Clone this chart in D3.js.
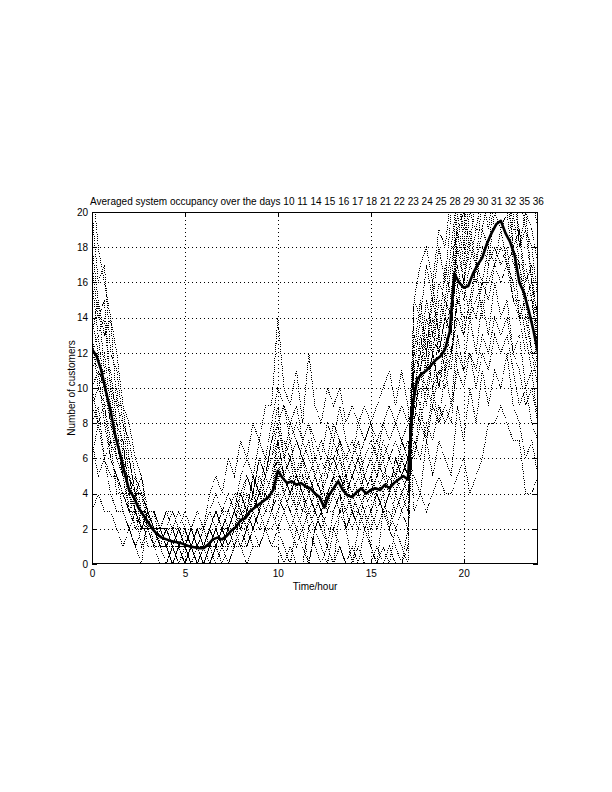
<!DOCTYPE html>
<html><head><meta charset="utf-8">
<script src="https://cdn.jsdelivr.net/npm/d3@7"></script>
<style>
body{margin:0;background:#fff}
text{font-family:"Liberation Sans",Arial,Helvetica,sans-serif;fill:#000}
</style>
</head><body>
<svg id="chart" width="612" height="792"></svg>
<script>
// ---------------- data ----------------
const titleText = "Averaged system occupancy over the days";
const dayLabels = [10,11,14,15,16,17,18,21,22,23,24,25,28,29,30,31,32,35,36];
const sampleStepHours = 1/3;   // day samples every 20 minutes
const meanStepHours = 0.25;    // average sampled every 15 minutes
const xTicks = [0,5,10,15,20];
const yTicks = [0,2,4,6,8,10,12,14,16,18,20];
const xDomain = [0,24];
const yDomain = [0,20];

const day10 = [17,14,15,10,9,8,5,4,4,3,2,1, 1,0,1,1,0,0,1,1,2,1, 1,2,1,2,3,2,2,3,4,3, 2,3,4,2,3,2,1,3,4,2, 3,2,3,2,3,4,2,3,4,3, 12,15,12,16,13,17,15,22,18,21,23,20,24,22,25,21,24,18,20,16,14];
const day11 = [7,5,6,4,3,3,2,1,2,3,2,2, 2,1,2,2,1,2,1,2,3,2, 3,4,3,5,4,6,5,7,9,6, 8,7,6,7,5,6,5,7,6,5, 6,7,5,6,7,6,7,8,7,6, 5,4,7,5,7,6,5,9,7,10,8,11,9,11,10,12,9,8,6,7,5];
const day14 = [11,12,9,9,6,6,3,4,2,2,3,1, 1,2,1,0,1,1,0,1,2,1, 2,1,3,2,3,4,3,4,6,4, 5,3,5,4,3,4,3,5,4,3, 4,3,4,5,3,4,5,4,5,4, 9,13,11,14,12,14,13,19,16,19,17,21,19,22,20,22,18,19,15,16,12];
const day15 = [10,8,9,6,5,4,4,2,3,3,2,2, 3,2,3,2,1,2,2,3,4,3, 4,3,5,6,5,7,6,8,10,9, 8,9,7,8,7,6,8,7,9,7, 6,8,7,8,7,8,9,8,9,8, 8,11,9,12,10,12,11,16,13,15,17,14,17,18,17,18,15,15,13,11,11];
const day16 = [20,16,17,12,11,8,7,5,4,2,1,1, 1,0,0,1,0,0,0,1,0,1, 0,1,1,2,1,1,2,1,2,1, 0,2,1,0,2,1,0,2,1,0, 1,0,2,1,0,1,0,2,1,0, 15,14,17,15,18,16,20,23,21,24,22,25,24,27,26,27,24,23,20,19,17];
const day17 = [8,9,6,7,4,4,3,2,2,2,2,1, 2,1,2,1,1,2,1,1,2,3, 2,3,2,4,3,5,4,5,7,5, 6,5,6,4,5,4,5,6,5,4, 5,6,4,5,6,5,4,6,5,6, 6,9,7,10,8,11,9,13,11,14,12,15,13,16,14,15,12,13,10,11,8];
const day18 = [14,12,12,9,8,5,5,3,3,3,1,2, 1,1,2,1,0,1,1,0,1,2, 1,2,2,3,2,3,4,3,5,4, 3,4,3,4,3,2,3,4,3,4, 3,2,4,3,4,3,4,3,4,5, 10,9,12,10,13,11,14,17,15,17,16,18,17,20,19,20,17,17,14,14,11];
const day21 = [13,15,11,11,8,7,4,5,3,2,2,2, 1,2,1,1,2,1,0,1,2,1, 2,3,2,3,4,3,4,5,6,5, 4,5,4,5,4,3,4,5,4,5, 3,4,5,4,5,4,5,4,6,5, 13,12,15,13,16,15,18,21,19,22,21,23,22,25,24,25,22,21,19,18,15];
const day22 = [3,4,3,3,2,1,2,1,0,3,3,2, 3,3,2,3,2,3,2,4,5,4, 6,5,7,6,8,7,9,9,14,10, 9,11,8,12,9,8,10,9,10,8, 9,8,9,8,9,10,11,9,11,9, 3,4,3,4,5,4,4,5,6,4,5,6,8,8,9,8,7,7,4,4,5];
const day23 = [18,15,13,14,9,9,6,4,5,2,1,1, 1,0,1,0,1,0,0,1,1,0, 1,2,1,1,2,1,2,3,2,3, 2,1,2,0,2,3,1,0,3,2, 0,2,3,1,0,3,2,1,0,2, 11,14,12,15,13,15,14,20,17,20,19,21,20,23,21,23,19,19,16,17,13];
const day24 = [10,11,8,8,7,5,3,4,2,3,2,1, 2,1,2,1,2,1,1,2,3,2, 3,2,4,3,5,4,5,6,8,6, 7,5,7,6,5,4,6,5,7,6, 5,6,5,6,5,7,6,5,7,6, 8,11,10,12,10,13,12,15,16,14,17,16,18,17,19,17,18,14,15,12,12];
const day25 = [6,8,6,5,5,3,2,3,1,2,1,1, 1,1,0,1,1,0,1,1,1,2, 1,1,2,2,3,2,3,3,4,3, 4,3,2,3,3,2,3,3,4,2, 3,3,2,3,4,3,2,4,3,4, 7,6,8,7,9,8,9,11,10,12,10,12,11,13,12,13,11,9,10,8,7];
const day28 = [16,13,14,10,10,6,6,4,4,3,2,1, 2,1,1,2,1,1,2,1,2,1, 2,3,3,2,4,3,5,4,7,5, 6,4,6,5,4,5,3,5,6,4, 5,4,5,4,5,6,4,6,5,6, 12,11,14,12,15,14,17,19,20,18,21,20,23,22,24,22,22,18,19,16,14];
const day29 = [13,10,11,8,7,5,5,3,3,1,1,0, 0,1,0,0,1,0,0,0,1,0, 0,1,1,0,1,1,2,1,1,0, 1,0,0,2,1,0,1,0,1,0, 0,1,0,0,1,0,1,0,0,1, 10,12,11,13,12,14,13,18,16,18,17,19,18,21,20,21,18,17,15,15,12];
const day30 = [9,10,9,7,6,5,3,3,2,3,2,2, 2,3,2,1,2,1,2,3,2,3, 3,4,4,5,4,6,5,7,8,9, 7,8,7,8,6,7,6,8,7,6, 7,6,7,8,6,8,7,8,7,8, 9,8,10,9,11,10,12,14,13,15,14,16,15,17,16,17,15,14,12,12,10];
const day31 = [22,18,16,14,12,9,8,6,5,3,2,2, 2,1,1,1,0,1,1,2,1,2, 1,2,2,3,2,3,4,3,5,5, 4,5,4,3,4,3,4,4,5,4, 3,4,3,4,4,3,4,5,4,5, 15,17,18,16,19,18,21,25,23,25,24,27,26,29,28,29,26,25,22,21,19];
const day32 = [9,8,8,6,5,4,3,3,2,2,3,2, 2,2,1,2,1,2,1,2,3,2, 2,3,4,3,5,4,6,6,7,7, 6,7,6,5,6,5,6,6,7,5, 6,5,6,7,6,5,6,7,6,7, 6,8,7,9,8,9,8,12,11,12,11,13,12,14,13,14,12,11,9,10,8];
const day35 = [12,13,10,10,7,7,4,4,3,2,2,1, 0,1,1,0,1,1,0,0,1,1, 2,1,2,1,2,3,2,2,3,4, 3,2,3,3,2,3,2,2,3,3, 2,3,2,3,2,3,3,2,3,2, 11,11,13,12,13,13,15,18,18,17,19,19,21,21,22,20,20,17,17,15,13];
const day36 = [12,11,10,8,6,6,4,3,3,2,2,2, 1,2,2,1,1,0,1,2,1,2, 2,2,3,3,3,4,4,5,6,6, 5,5,5,4,5,4,4,5,5,5, 4,5,4,5,4,5,5,5,6,5, 9,10,10,10,11,11,12,15,14,14,15,16,16,17,18,17,16,14,14,12,11];

const averageOccupancy = [
  12.2,11.8,11.0,9.8,8.7,7.3,6.3,5.2,
  4.2,3.8,3.2,2.8,2.4,2.0,1.7,1.5,
  1.4,1.3,1.25,1.2,1.1,1.0,0.95,0.9,
  0.9,1.1,1.4,1.5,1.4,1.6,1.9,2.1,
  2.5,2.6,3.0,3.2,3.4,3.6,3.8,4.2,
  5.3,4.9,4.6,4.7,4.5,4.6,4.4,4.3,
  4.0,3.8,3.2,3.9,4.3,4.7,4.2,3.9,
  3.8,4.1,4.3,4.0,4.2,4.3,4.2,4.5,
  4.3,4.6,4.8,5.0,4.8,9.0,10.5,10.8,
  11.0,11.3,11.6,11.8,12.2,13.2,16.5,16.0,
  15.7,15.8,16.5,17.0,17.4,18.2,18.8,19.3,
  19.5,18.8,18.3,17.5,16.0,15.4,14.4,13.3,
  12.0];

const daySeries = [day10,day11,day14,day15,day16,day17,day18,day21,day22,day23,
                   day24,day25,day28,day29,day30,day31,day32,day35,day36];

// ---------------- drawing ----------------
const svg = d3.select("#chart");
const L = 92, R = 538, T = 212, B = 564;
const x = d3.scaleLinear().domain(xDomain).range([L, R]);
const y = d3.scaleLinear().domain(yDomain).range([B, T]);

svg.append("defs").append("clipPath").attr("id","plotclip")
  .append("rect").attr("x",L).attr("y",T).attr("width",R-L).attr("height",B-T);

// grid
const grid = svg.append("g").attr("stroke","#000").attr("stroke-width",1)
  .attr("stroke-dasharray","1,3").attr("shape-rendering","crispEdges");
grid.selectAll("line.vx").data(xTicks.filter(t => t > xDomain[0] && t < xDomain[1]))
  .join("line").attr("x1",d=>Math.round(x(d))+0.5).attr("x2",d=>Math.round(x(d))+0.5)
  .attr("y1",T).attr("y2",B);
grid.selectAll("line.hy").data(yTicks.filter(t => t > yDomain[0] && t < yDomain[1]))
  .join("line").attr("y1",d=>Math.round(y(d))+0.5).attr("y2",d=>Math.round(y(d))+0.5)
  .attr("x1",L).attr("x2",R);

// day lines (dotted)
const dayLine = d3.line().x((d,i)=>x(i*sampleStepHours)).y(d=>y(d));
const dataG = svg.append("g").attr("clip-path","url(#plotclip)");
dataG.selectAll("path.day").data(daySeries).join("path")
  .attr("class","day").attr("d",dayLine).attr("fill","none")
  .attr("stroke","#000").attr("stroke-width",1).attr("stroke-dasharray","1,1.2")
  .attr("shape-rendering","crispEdges");

// average (solid thick)
const meanLine = d3.line().x((d,i)=>x(i*meanStepHours)).y(d=>y(d));
dataG.append("path").datum(averageOccupancy).attr("d",meanLine)
  .attr("fill","none").attr("stroke","#000").attr("stroke-width",2.6)
  .attr("stroke-linejoin","round");

// frame
svg.append("rect").attr("x",L+0.5).attr("y",T+0.5).attr("width",R-L-1).attr("height",B-T-1)
  .attr("fill","none").attr("stroke","#000").attr("stroke-width",1).attr("shape-rendering","crispEdges");

// axes (inward ticks)
const fs = 10;
const axB = svg.append("g").attr("transform",`translate(0,${B})`)
  .call(d3.axisBottom(x).tickValues(xTicks).tickSize(-5).tickPadding(6).tickFormat(d3.format("d")));
const axT = svg.append("g").attr("transform",`translate(0,${T})`)
  .call(d3.axisTop(x).tickValues(xTicks).tickSize(-5).tickFormat(""));
const axL = svg.append("g").attr("transform",`translate(${L},0)`)
  .call(d3.axisLeft(y).tickValues(yTicks).tickSize(-5).tickPadding(4).tickFormat(d3.format("d")));
const axR = svg.append("g").attr("transform",`translate(${R},0)`)
  .call(d3.axisRight(y).tickValues(yTicks).tickSize(-5).tickFormat(""));
[axB,axT,axL,axR].forEach(a=>{
  a.select(".domain").remove();
  a.selectAll("line").attr("stroke","#000").attr("shape-rendering","crispEdges");
  a.selectAll("text").attr("font-size",fs).attr("font-family",null);
});

// labels
svg.append("text").attr("x",(L+R)/2+2).attr("y",205).attr("text-anchor","middle")
  .attr("font-size",fs).text(titleText + " " + dayLabels.join(" "));
svg.append("text").attr("x",(L+R)/2).attr("y",590).attr("text-anchor","middle")
  .attr("font-size",fs).text("Time/hour");
svg.append("text").attr("transform",`translate(75,${(T+B)/2}) rotate(-90)`)
  .attr("text-anchor","middle").attr("font-size",fs).text("Number of customers");
</script>
</body></html>
